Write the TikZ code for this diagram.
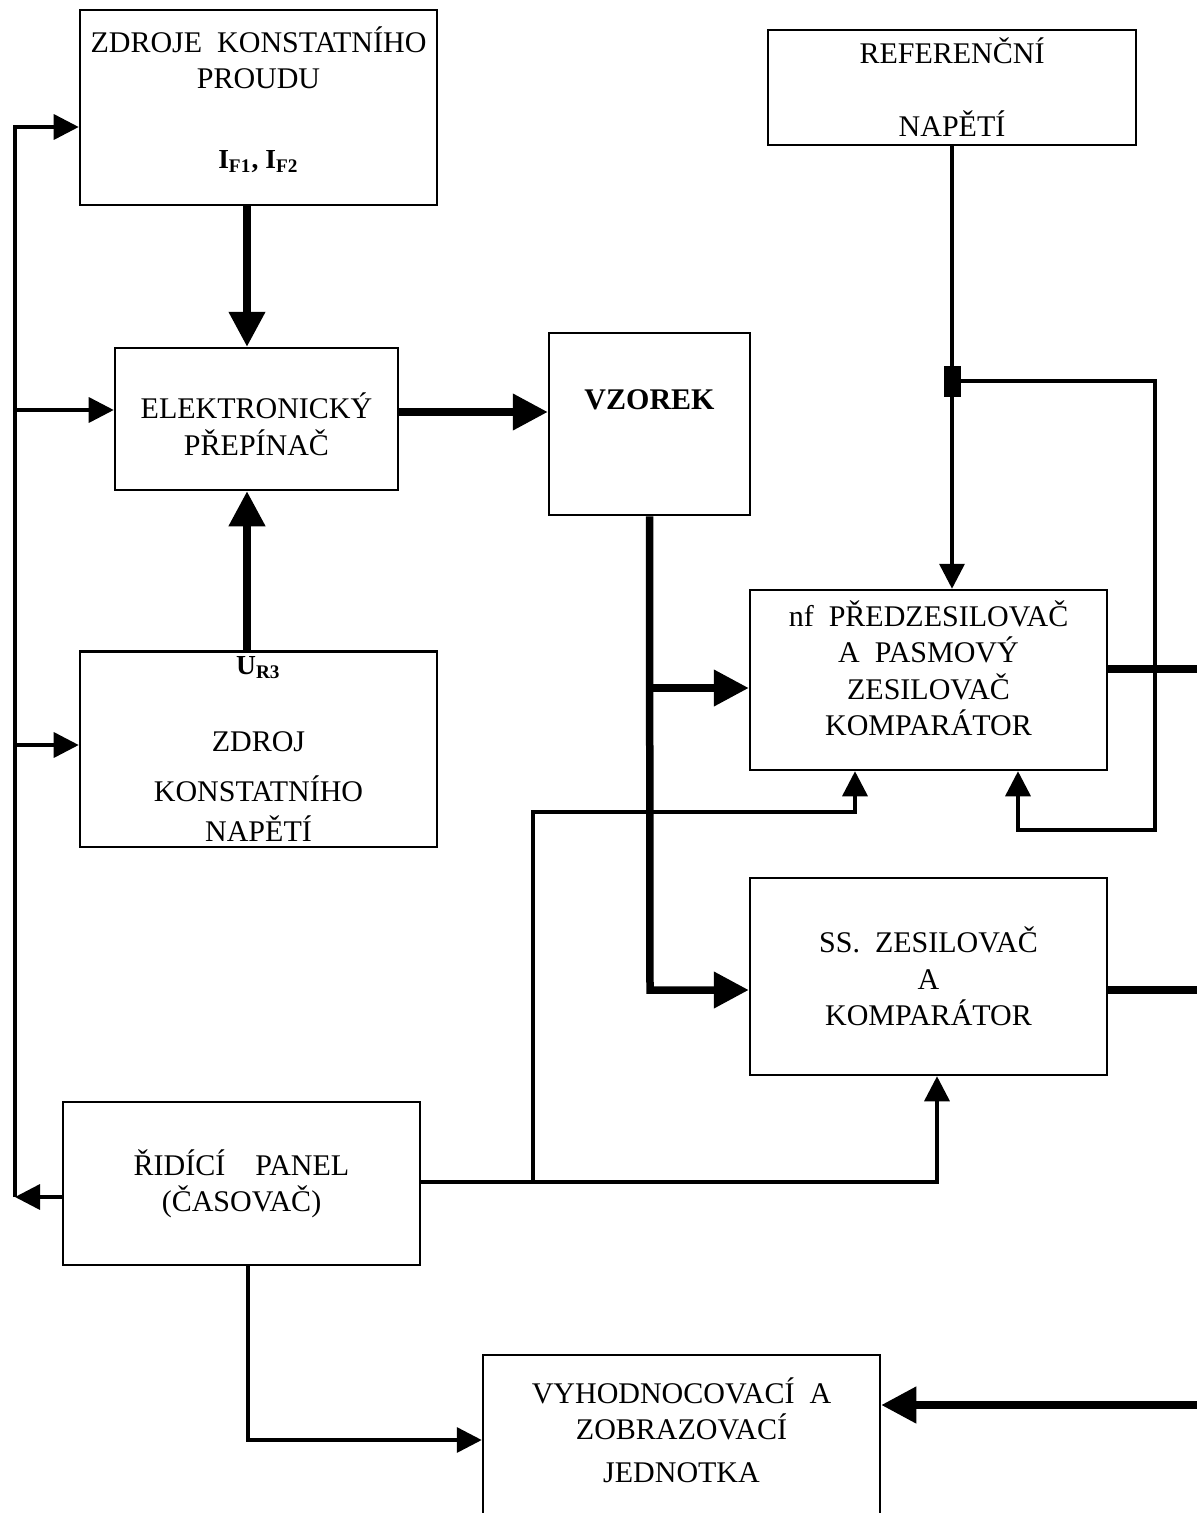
\documentclass[tikz,border=0pt]{standalone}
\usepackage{fontspec}
\setmainfont{Liberation Serif}
\usetikzlibrary{arrows.meta}
\newcommand{\lbl}[1]{{\fontsize{11}{13}\selectfont\textbf{#1}}}
\tikzset{
x=0.4pt, y=-0.4pt, % one unit is one pixel of the sketch, y runs downwards
block/.style={draw, line width=1pt, align=center, inner sep=2pt, font=\fontsize{12}{14.5}\selectfont}, % every box
thinarr/.style={line width=1.4pt, -{Triangle[length=10pt,width=10pt]}}, % control lines
thickarr/.style={line width=3pt, -{Triangle[length=14pt,width=14pt]}}, % signal lines
thickline/.style={line width=3pt},
}

\begin{document}
\begin{tikzpicture}
\path[use as bounding box, fill=white] (0,0) rectangle (1197,1513);
\node[block, minimum width=142.8pt, minimum height=78pt] (src) at (258.5,107.5) {ZDROJE\ \ KONSTATNÍHO\\PROUDU\\[17.5pt]\lbl{I\textsubscript{F1}, I\textsubscript{F2}}\\[-6.5pt]\mbox{}};
\node[block, minimum width=147.2pt, minimum height=46pt] (ref) at (952,87.5) {REFERENČNÍ\\[14.7pt]NAPĚTÍ};
\node[block, minimum width=113.2pt, minimum height=56.8pt] (sw) at (256.5,419) {\mbox{}\\ELEKTRONICKÝ\\PŘEPÍNAČ};
\node[block, minimum width=80.4pt, minimum height=72.8pt] (vz) at (649.5,424) {\textbf{VZOREK}\\[5pt]\mbox{}};
\node[block, minimum width=142.8pt, minimum height=72pt] (pre) at (928.5,680) {nf\ \ PŘEDZESILOVAČ\\A\ \ PASMOVÝ\\ZESILOVAČ\\KOMPARÁTOR\\[-5pt]\mbox{}};
\node[block, minimum width=142.8pt, minimum height=76.8pt] (cv) at (258.5,749) {\lbl{U\textsubscript{R3}}\\[16.5pt]ZDROJ\\[5.5pt]KONSTATNÍHO\\[1.5pt]NAPĚTÍ};
\node[block, minimum width=142.8pt, minimum height=78.8pt] (ss) at (928.5,976.5) {SS.\ \ ZESILOVAČ\\A\\KOMPARÁTOR};
\node[block, minimum width=142.8pt, minimum height=65.2pt] (ctrl) at (241.5,1183.5) {ŘIDÍCÍ\quad PANEL\\(ČASOVAČ)};
\node[block, minimum width=158.8pt, minimum height=82pt] (ev) at (681.5,1457.5) {VYHODNOCOVACÍ\ \ A\\ZOBRAZOVACÍ\\[2.5pt]JEDNOTKA\\[7.5pt]\mbox{}};
\node[fill, inner sep=0pt, minimum width=6.8pt, minimum height=12.4pt] (tap) at (952,381) {};

\coordinate (ax) at (247,0);
\coordinate (ay) at (0,412);
\coordinate (bt) at (15,127);
\coordinate (bm) at (15,410);
\coordinate (bl) at (15,745);
\coordinate (bb) at (15,1197);
\coordinate (j1) at (650,688);
\coordinate (j2) at (650,990);
\coordinate (fb) at (1155,830);
\coordinate (fbin) at (1018,830);
\coordinate (c1) at (533,1182);
\coordinate (c2) at (855,812);
\coordinate (c3) at (937,1182);
\coordinate (c4) at (248,1440);
\coordinate (r1) at (1205,669);
\coordinate (r2) at (1205,990);
\coordinate (r3) at (1205,1405);

% signal path
\draw[thickarr] (src.south -| ax) -- (sw.north -| ax);
\draw[thickarr] (cv.north -| ax) -- (sw.south -| ax);
\draw[thickarr] (sw.east |- ay) -- (vz.west |- ay);
\draw[thickarr] (vz.south) -- (j2) -- (j2 -| ss.west);
\draw[thickarr] (j1) -- (j1 -| pre.west);
\draw[thickline] (pre.east |- r1) -- (r1);
\draw[thickline] (ss.east |- r2) -- (r2);
\draw[thickarr] (r3) -- (r3 -| ev.east);
% reference and feedback
\draw[thinarr] (ref.south) -- (ref.south |- pre.north);
\draw[thinarr] (tap.east) -| (fb) -- (fbin) -- (fbin |- pre.south);
% control bus
\draw[thinarr] (ctrl.west |- bb) -- (bb);
\draw[thinarr] (bb) -- (bt) -- (bt -| src.west);
\draw[thinarr] (bm) -- (bm -| sw.west);
\draw[thinarr] (bl) -- (bl -| cv.west);
\draw[thinarr] (ctrl.east |- c3) -- (c3) -- (c3 |- ss.south);
\draw[thinarr] (c1) |- (c2) -- (c2 |- pre.south);
\draw[thinarr] (ctrl.south -| c4) -- (c4) -- (c4 -| ev.west);
\end{tikzpicture}
\end{document}
